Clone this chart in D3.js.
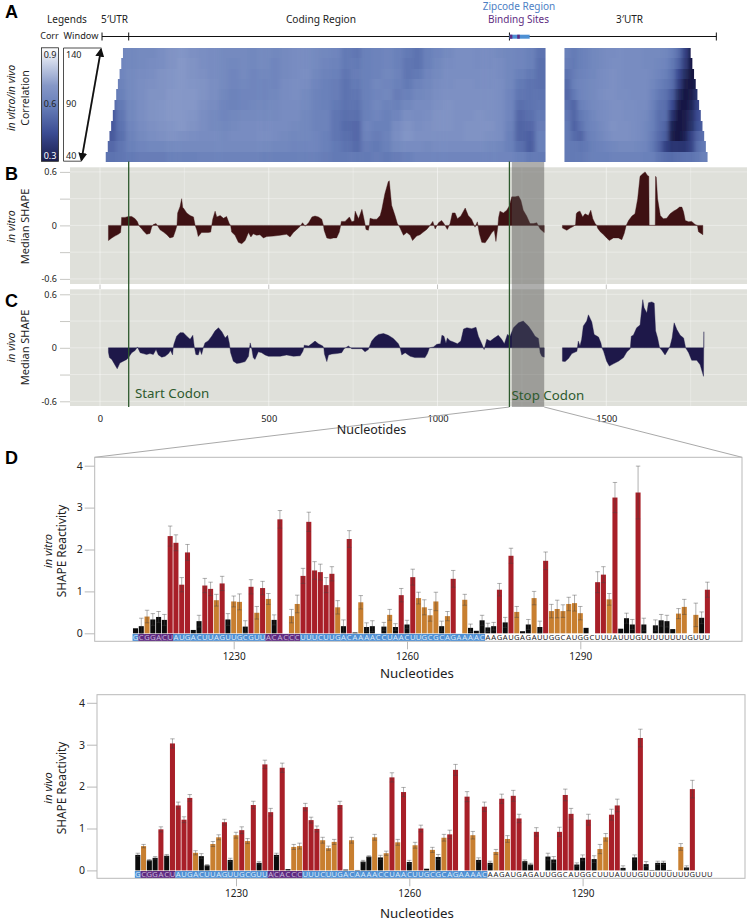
<!DOCTYPE html>
<html>
<head>
  <title>SHAPE reactivity profile</title>
  <style>
    html, body { margin: 0; padding: 0; background: #fff; }
    svg { display: block; }
    text { font-family: "Noto Sans", sans-serif; fill: #222; }
  </style>
</head>
<body>
  <svg width="747" height="921"></svg>

  <script src="https://unpkg.com/d3@7/dist/d3.min.js"></script>
  <script type="text/javascript">
    // nucleotides 1213-1312, panel D
    var firstNt = 1213
    var sequence = "GCGGACUAUGACUUAGUUGCGUUACACCCUUUCUUGACAAAACCUAACUUGCGCAGAAAACAAGAUGAGAUUGGCAUGGCUUUAUUUGUUUUUUUUGUUU"
    var bindingSpans = [[1, 6], [23, 28]]
    var zipcodeSpan = [0, 60]

    var vitroVal = [.12,.17,.40,.33,.39,.32,2.32,2.16,1.16,1.93,.08,.29,1.14,1.06,.79,1.19,.33,.76,.75,.16,1.11,.49,1.08,.82,.32,2.72,null,.41,.70,1.37,2.66,1.50,1.46,1.15,1.42,.62,.17,2.25,.02,.74,.15,.17,null,.16,.44,.15,.91,.21,1.34,.84,.62,.43,.76,.17,.41,1.30,null,.80,.13,.06,.31,.14,.17,1.04,.26,1.85,.51,.05,.21,.84,.15,1.73,.53,.58,.53,.70,.72,.48,.13,null,1.22,1.40,.81,3.24,.11,.36,.21,3.36,.21,null,.19,.31,.29,.10,.47,.63,null,.44,.37,1.04]
    var vitroTop = [null,.36,.55,.47,.52,.45,2.56,2.35,1.33,2.12,null,.43,1.31,1.22,.93,1.36,.47,.89,.94,.30,1.28,.64,1.24,.95,.44,2.93,null,.57,.91,1.55,2.89,1.71,1.65,1.33,1.59,.78,.32,2.45,null,.90,.25,.30,null,.26,.57,.23,1.07,.31,1.53,.98,.80,.57,.98,.29,.52,1.50,null,.93,.22,null,.43,.24,.26,1.19,.38,2.03,.64,null,.33,1.0,.29,1.94,.69,.79,.68,.86,.91,.64,null,null,1.47,1.59,.95,3.60,null,.48,.33,3.99,.36,null,.32,.45,.43,null,.59,.81,null,.72,.51,1.22]
    var vivoVal = [.37,.58,.24,.30,.98,.35,3.03,1.55,1.21,1.73,.42,.34,.12,.63,.79,1.15,.25,.84,.96,.70,1.56,.18,2.53,1.39,.37,2.45,.03,.56,.58,1.51,1.20,.99,.72,.53,.68,1.56,.02,.72,.01,.21,.33,.79,.31,.41,2.22,.67,1.87,.20,.60,1.00,.04,.49,.32,.78,.86,2.40,null,1.76,.84,.25,1.52,.18,.44,1.71,.75,1.78,1.24,.22,.14,.92,null,.33,.26,.92,1.80,1.35,.14,.30,1.21,.27,.51,.79,1.33,1.55,.06,null,.31,3.16,.15,.01,.18,.18,.01,null,.56,.07,1.94,null,null,null]
    var vivoTop = [.41,.62,.26,.33,1.04,.38,3.14,1.63,1.28,1.81,.47,.40,.14,.69,.85,1.22,.29,.91,1.04,.76,1.65,.21,2.63,1.48,.41,2.56,null,.62,.65,1.60,1.27,1.06,.79,.58,.74,1.65,null,.79,null,.24,.35,.86,.36,.46,2.33,.74,1.98,.24,.67,1.08,null,.55,.38,.86,.96,2.53,null,1.88,.93,.30,1.63,.22,.50,1.82,.83,1.91,1.34,.25,.17,1.02,null,.41,.33,1.03,1.94,1.48,.18,.37,1.34,.35,.62,.88,1.46,1.70,.11,null,.37,3.37,.21,null,.22,.22,null,null,.64,.11,2.15,null,null,null]

    // median SHAPE [nucleotide, value]
    var medVitroCoding = [[25,-.17],[35,-.14],[44,-.12],[54,-.10],[61,-.08],[63,0],[64,.09],[74,.09],[84,.10],[94,.10],[104,.075],[111,.04],[115,0],[119,-.02],[124,-.04],[128,-.06],[138,-.10],[148,-.09],[153,-.02],[158,.01],[166,.02],[170,0],[178,-.05],[188,-.075],[198,-.105],[207,-.14],[217,-.13],[224,-.055],[228,0],[230,.14],[237,.21],[242,.30],[245,.20],[247,.195],[257,.14],[267,.11],[277,.095],[282,0],[287,-.055],[291,-.125],[301,-.08],[311,-.08],[321,-.08],[328,-.075],[331,0],[334,.07],[341,.16],[346,.095],[356,.11],[366,.08],[375,.10],[383,.02],[387,0],[390,-.075],[400,-.11],[410,-.19],[420,-.205],[430,-.17],[440,-.08],[447,-.13],[454,-.095],[464,-.11],[474,-.105],[484,-.14],[494,-.125],[514,-.12],[534,-.11],[553,-.10],[563,-.13],[573,-.08],[583,-.045],[593,-.01],[600,.03],[608,-.01],[618,.03],[628,.095],[637,.105],[647,.095],[657,.07],[662,0],[664,-.055],[672,-.14],[682,-.15],[692,-.14],[701,-.14],[709,-.075],[713,0],[715,.045],[726,.045],[739,.095],[746,.04],[753,.05],[756,.16],[766,.075],[776,.18],[782,.075],[786,0],[788,-.045],[795,-.055],[798,0],[800,.08],[810,.07],[820,.07],[830,.11],[835,.18],[844,.355],[854,.49],[857,.50],[864,.225],[874,.11],[881,.02],[885,0],[889,-.03],[899,-.11],[909,-.08],[919,-.11],[926,-.17],[938,-.12],[948,-.105],[958,-.075],[968,-.045],[976,-.01],[986,.045],[993,-.04],[1003,.03],[1012,.055],[1019,.02],[1029,-.045],[1037,.02],[1044,.14],[1052,.14],[1059,.075],[1069,.105],[1082,.195],[1091,.11],[1101,.07],[1111,-.02],[1118,.04],[1124,-.095],[1131,-.19],[1141,-.195],[1151,-.14],[1161,-.08],[1168,-.055],[1173,-.18],[1179,0],[1181,.09],[1185,.16],[1195,.14],[1205,.17],[1213,.22],[1220,.32],[1230,.32],[1240,.33],[1247,.28],[1254,.17],[1264,.105],[1274,.02],[1284,.02],[1294,.03],[1304,-.04],[1316,-.08]]
    var medVitroUtr = [[1370,-.03],[1383,-.055],[1393,-.03],[1403,-.01],[1409,.01],[1411,.13],[1415,.15],[1422,.16],[1430,.095],[1437,.13],[1447,.11],[1454,.17],[1460,.075],[1467,.02],[1472,0],[1474,-.03],[1482,-.07],[1492,-.105],[1501,-.14],[1509,-.17],[1521,-.14],[1536,-.14],[1546,-.16],[1553,-.09],[1559,0],[1566,.055],[1576,.105],[1585,.13],[1593,.30],[1600,.55],[1608,.58],[1615,.60],[1622,.56],[1626,.55],[1627,0],[1645,0],[1646,.55],[1648,.54],[1652,.30],[1660,.11],[1669,.075],[1679,.08],[1689,.13],[1699,.16],[1709,.18],[1717,.205],[1724,.205],[1729,.15],[1734,.055],[1744,.04],[1753,.045],[1763,.01],[1770,0],[1773,-.07],[1786,-.105]]
    var medVivoCoding = [[25,-.05],[28,-.11],[35,-.13],[44,-.19],[51,-.235],[59,-.17],[69,-.15],[79,-.13],[85,-.105],[94,-.055],[104,-.03],[111,.01],[119,-.055],[128,-.065],[138,-.075],[148,-.065],[158,-.075],[166,-.02],[173,-.08],[183,-.105],[193,-.095],[203,-.065],[209,-.03],[215,-.08],[217,0],[219,.04],[227,.13],[237,.17],[247,.17],[257,.13],[267,.095],[275,.14],[279,.02],[284,-.075],[291,-.08],[296,-.02],[301,-.075],[306,0],[311,.055],[321,.08],[331,.13],[341,.19],[351,.225],[361,.18],[371,.11],[378,.14],[383,.055],[385,0],[387,-.055],[395,-.15],[405,-.175],[415,-.17],[430,-.155],[440,-.095],[443,0],[445,.055],[450,-.02],[454,-.11],[459,-.13],[469,-.045],[479,-.055],[489,-.08],[499,-.095],[514,-.095],[534,-.095],[553,-.08],[573,-.095],[593,-.09],[601,-.04],[604,0],[605,.03],[618,.02],[627,.045],[637,.075],[647,.045],[660,.02],[663,0],[665,-.07],[672,-.155],[677,-.08],[687,-.07],[701,-.065],[716,-.055],[723,-.01],[736,.02],[746,-.01],[761,-.01],[776,-.01],[785,-.045],[795,-.02],[800,.03],[805,.075],[815,.12],[825,.15],[840,.16],[854,.14],[869,.105],[884,.045],[889,0],[894,-.08],[904,-.055],[919,-.095],[933,-.11],[948,-.11],[963,-.11],[970,-.065],[976,0],[988,.01],[998,.04],[1009,.045],[1013,.14],[1019,.13],[1025,.05],[1029,.11],[1037,.08],[1047,.065],[1059,.045],[1069,.075],[1077,.21],[1087,.225],[1101,.215],[1114,.23],[1121,.13],[1131,.045],[1138,-.02],[1146,.095],[1156,.075],[1168,.11],[1180,.14],[1190,.095],[1198,.045],[1207,.15],[1215,.13],[1225,.225],[1240,.28],[1254,.30],[1269,.245],[1279,.19],[1289,.13],[1299,.105],[1304,-.055],[1309,-.095],[1316,-.105]]
    var medVivoUtr = [[1370,-.15],[1378,-.155],[1388,-.12],[1398,-.065],[1413,-.04],[1417,.075],[1422,.02],[1427,.095],[1432,.245],[1442,.30],[1447,.37],[1457,.29],[1464,.15],[1477,.12],[1484,.055],[1487,0],[1492,-.04],[1501,-.15],[1509,-.205],[1521,-.18],[1536,-.15],[1551,-.11],[1561,-.045],[1571,-.01],[1574,.13],[1580,.14],[1590,.225],[1600,.255],[1608,.54],[1612,.45],[1620,.39],[1625,.505],[1635,.515],[1642,.50],[1646,.19],[1652,.11],[1658,0],[1665,-.03],[1674,-.08],[1682,-.03],[1689,.02],[1695,.11],[1701,.28],[1709,.205],[1719,.14],[1729,.11],[1735,0],[1744,-.055],[1753,-.14],[1768,-.14],[1778,-.19],[1788,-.32],[1789,.18]]

    // correlation heatmap, one row per window size
    var windows = [140,130,120,110,100,90,80,70,60,50,40]
    var heatRowStart = [68,63,58,53,48,43,38,33,28,23,17]
    var heatRowEnd = [1750,1755,1760,1765,1770,1775,1780,1785,1790,1795,1800]
    var heatCoding = [
      [62,62,63,64,64,66,68,69,67,66,65,64,64,64,63,64,63,64,65,65,64,63,62,58,57,60,61,62,60,58,56,60,62,64,66,66,65,65,64,63,62,60,56],
      [62,62,63,64,65,66,68,70,68,66,65,64,63,64,63,64,62,64,65,65,64,62,61,58,58,60,61,62,60,57,56,60,63,65,66,66,65,65,65,63,62,60,55],
      [60,62,64,65,66,68,69,70,68,67,65,64,62,64,62,63,62,64,65,66,63,61,60,57,59,60,61,63,61,57,58,62,64,66,66,66,66,66,65,63,60,58,55],
      [57,61,64,66,67,68,69,70,69,68,66,64,62,63,62,62,62,65,66,65,62,60,59,56,58,60,63,62,60,58,61,63,65,66,67,67,66,66,66,63,58,56,55],
      [55,60,64,66,68,68,70,70,70,68,66,63,61,62,62,62,63,65,66,64,61,60,59,56,57,60,62,63,59,60,63,64,66,67,67,67,67,67,66,62,57,56,56],
      [52,58,63,66,68,69,70,70,70,67,65,62,61,62,63,63,64,65,65,64,61,60,58,56,56,60,63,61,60,63,65,65,67,68,67,67,67,67,66,62,55,56,57],
      [48,57,63,66,68,69,70,70,69,66,64,62,63,64,64,64,64,65,65,63,61,61,57,55,55,60,62,60,62,66,65,66,68,68,67,67,68,67,66,62,53,55,58],
      [48,56,62,65,67,68,69,70,68,66,64,63,64,65,65,65,65,65,64,63,61,61,57,54,53,62,60,60,65,68,66,67,68,68,67,68,68,68,66,61,52,53,59],
      [49,55,61,64,66,67,68,67,66,65,65,64,65,65,65,66,65,64,63,63,62,60,57,55,53,61,59,61,66,69,67,67,67,67,67,68,68,67,66,60,52,51,60],
      [53,57,60,62,63,63,64,64,64,64,64,64,64,64,64,64,63,63,62,62,62,60,58,56,54,59,58,60,64,65,65,64,65,65,65,65,65,64,63,60,55,50,60],
      [56,57,58,59,59,59,60,60,60,61,61,61,61,61,61,60,60,60,60,60,60,59,58,58,58,58,59,58,59,60,62,62,62,62,62,62,62,62,62,62,60,58,58]
    ]
    var heatUtr = [
      [60,58,60,61,63,64,65,65,66,65,65,65,64,64,64,63,60,55,42,30,30,30],
      [59,58,60,61,63,64,65,66,66,65,65,65,64,64,63,62,58,52,40,28,28,28],
      [56,59,61,62,63,65,66,67,66,65,65,65,65,64,62,60,56,45,35,27,30,30],
      [54,60,62,63,64,65,66,67,66,65,65,65,65,63,60,58,55,42,30,28,32,32],
      [53,58,62,63,64,66,67,67,66,66,65,65,65,62,58,56,50,35,28,30,38,38],
      [55,52,60,62,64,65,66,67,67,66,66,65,65,61,56,55,45,30,28,32,42,50],
      [57,52,58,60,63,65,66,67,67,66,66,65,64,60,55,55,38,28,30,35,45,50],
      [58,51,56,60,62,64,66,68,67,67,66,65,63,60,55,52,32,28,30,36,47,50],
      [58,54,52,59,61,63,65,67,67,67,66,65,63,59,54,50,30,28,32,42,52,55],
      [58,58,57,58,60,61,62,63,64,64,64,63,62,58,52,42,38,38,38,42,55,58],
      [58,58,58,59,60,60,60,61,61,61,61,61,60,60,57,55,54,55,56,56,58,60]
    ]
    var legendStops = [.9,.85,.8,.75,.7,.65,.6,.55,.5,.45,.4,.35,.3]

    var regionTicks = [6,85,1213,1826]
    var shapeTicks = [.6,.3,0,-.3,-.6]
    var ntTicks = [0,500,1000,1500]
    var ntGrid = [250,750,1250,1750]
    var reactivityTicks = [0,1,2,3,4]
    var zoomTicks = [1230,1260,1290]

    var svg = d3.select("svg")

    var xNt = d3.scaleLinear().domain([0, 1500]).range([100, 606.3])
    var color = d3.scaleLinear()
      .domain([.3, .45, .6, .7, .8, .9])
      .range(["#1a1d4c", "#3b4c93", "#6a81ba", "#8597c7", "#c0cae2", "#ffffff"])

    function label(x, y, txt, size, opts) {
      opts = opts || {}
      return svg.append("text")
        .attr("x", x).attr("y", y)
        .attr("font-size", size)
        .attr("text-anchor", opts.anchor || "middle")
        .attr("font-style", opts.italic ? "italic" : null)
        .attr("font-weight", opts.bold ? "bold" : null)
        .style("fill", opts.fill || null)
        .style("font-family", opts.family || null)
        .text(txt)
    }

    function sideLabel(cx, cy, txt, size, italic) {
      svg.append("text")
        .attr("transform", "translate(" + cx + "," + cy + ") rotate(-90)")
        .attr("text-anchor", "middle")
        .attr("font-size", size)
        .attr("font-style", italic ? "italic" : null)
        .text(txt)
    }

    // panel letters
    var letters = [["A", 18], ["B", 180], ["C", 307], ["D", 464]]
    letters.forEach(function(d) {
      label(5, d[1], d[0], 18, {anchor: "start", bold: true, fill: "#000", family: "Liberation Sans"})
    })

    // header of panel A
    label(67, 23, "Legends", 10)
    label(114.5, 23, "5\u2032UTR", 10)
    label(321, 23, "Coding Region", 10.2)
    label(519, 10, "Zipcode Region", 10, {fill: "#4d80c4"})
    label(518.5, 23, "Binding Sites", 10, {fill: "#5e2d82"})
    label(629.5, 23, "3\u2032UTR", 10)
    label(49.5, 39, "Corr", 9)
    label(81, 39, "Window", 9.2)

    svg.append("line").attr("x1", xNt(regionTicks[0])).attr("x2", xNt(regionTicks[3])).attr("y1", 36.5).attr("y2", 36.5)
      .attr("stroke", "#111").attr("stroke-width", 1)
    svg.selectAll(".regionTick").data(regionTicks).enter().append("line")
      .attr("x1", function(d) { return xNt(d) })
      .attr("x2", function(d) { return xNt(d) })
      .attr("y1", 32.5).attr("y2", 40.5)
      .attr("stroke", "#111").attr("stroke-width", 1)

    // zipcode bar on the region line
    svg.append("rect")
      .attr("x", xNt(firstNt + zipcodeSpan[0])).attr("y", 34.7)
      .attr("width", xNt(firstNt + zipcodeSpan[1]) - xNt(firstNt + zipcodeSpan[0])).attr("height", 4)
      .attr("fill", "#4d90d4")
    svg.selectAll(".bindBar").data(bindingSpans).enter().append("rect")
      .attr("x", function(d) { return xNt(firstNt + d[0]) })
      .attr("y", 34.7).attr("height", 4)
      .attr("width", 2.6)
      .attr("fill", "#5e2d82")

    // heatmap, rows snapped to whole pixels so no seams show
    var defs = svg.append("defs")
    var rowY = d3.scaleBand().domain(windows).range([48, 162])
    var colCoding = d3.scaleBand().domain(d3.range(heatCoding[0].length)).range([xNt(17), xNt(1320)])
    var colUtr = d3.scaleBand().domain(d3.range(heatUtr[0].length)).range([xNt(1376), xNt(1800)])
    var rowTop = function(w) { return Math.round(rowY(w)) }
    var rowBot = function(w) { return Math.round(rowY(w) + rowY.bandwidth()) }

    // one outline for the stepped left edge of the coding part, one for the right edge of the UTR part
    var codingEdge = "M" + xNt(1320) + "," + rowTop(windows[0]), utrEdge = "M" + xNt(1376) + "," + rowTop(windows[0])
    windows.forEach(function(w, r) {
      utrEdge += "L" + xNt(heatRowEnd[r]) + "," + rowTop(w) + "L" + xNt(heatRowEnd[r]) + "," + rowBot(w)
    })
    utrEdge += "L" + xNt(1376) + "," + rowBot(windows[10]) + "Z"
    codingEdge += "L" + xNt(1320) + "," + rowBot(windows[10])
    windows.slice().reverse().forEach(function(w, k) {
      var r = windows.length - 1 - k
      codingEdge += "L" + xNt(heatRowStart[r]) + "," + rowBot(w) + "L" + xNt(heatRowStart[r]) + "," + rowTop(w)
    })
    codingEdge += "Z"
    defs.append("clipPath").attr("id", "heatClip").append("path").attr("d", codingEdge + utrEdge)

    defs.append("filter").attr("id", "heatBlur").attr("x", "-5%").attr("y", "-5%").attr("width", "110%").attr("height", "110%")
      .append("feGaussianBlur").attr("stdDeviation", "2.2 0.5")

    var heat = svg.append("g").attr("clip-path", "url(#heatClip)")
      .append("g").attr("filter", "url(#heatBlur)")
    windows.forEach(function(w, r) {
      var pad = (r === 0 || r === windows.length - 1) ? 4 : 0
      var top = rowTop(w) - (r === 0 ? 4 : 0)
      var h = rowBot(w) - rowTop(w) + pad
      heat.selectAll(".codingCell" + r).data(heatCoding[r]).enter().append("rect")
        .attr("x", function(d, i) { return i === 0 ? colCoding(i) - 8 : colCoding(i) })
        .attr("y", top)
        .attr("width", function(d, i) {
          if (i === 0) return colCoding.bandwidth() + 8.5
          return colCoding.bandwidth() + (i === heatCoding[r].length - 1 ? 8 : .5)
        })
        .attr("height", h)
        .attr("fill", function(d) { return color(d / 100) })
      heat.selectAll(".utrCell" + r).data(heatUtr[r]).enter().append("rect")
        .attr("x", function(d, i) { return i === 0 ? colUtr(i) - 8 : colUtr(i) })
        .attr("y", top)
        .attr("width", function(d, i) {
          if (i === 0) return colUtr.bandwidth() + 8.5
          return colUtr.bandwidth() + (i === heatUtr[r].length - 1 ? 8 : .5)
        })
        .attr("height", h)
        .attr("fill", function(d) { return color(d / 100) })
    })

    // legends
    var grad = defs.append("linearGradient").attr("id", "corrGrad").attr("x1", 0).attr("x2", 0).attr("y1", 0).attr("y2", 1)
    grad.selectAll("stop").data(legendStops).enter().append("stop")
      .attr("offset", function(d, i) { return i / (legendStops.length - 1) })
      .attr("stop-color", function(d) { return color(d) })
    svg.append("rect").attr("x", 41.5).attr("y", 47.8).attr("width", 17).attr("height", 113.5)
      .attr("fill", "url(#corrGrad)").attr("stroke", "#222").attr("stroke-width", .8)
    label(50, 57.5, "0.9", 9)
    label(50, 106.5, "0.6", 9)
    label(50, 158.5, "0.3", 9, {fill: "#fff"})

    svg.append("path").attr("d", "M101.5,48 H63.5 V161.2 H81")
      .attr("fill", "none").attr("stroke", "#222").attr("stroke-width", .8)
    label(66, 57.5, "140", 9, {anchor: "start"})
    label(66, 106.5, "90", 9, {anchor: "start"})
    label(66, 158.5, "40", 9, {anchor: "start"})

    var head = defs.append("marker").attr("id", "head").attr("viewBox", "0 0 10 10")
      .attr("refX", 8).attr("refY", 5).attr("markerWidth", 5).attr("markerHeight", 5)
      .attr("orient", "auto-start-reverse")
    head.append("path").attr("d", "M0,0 L10,5 L0,10 z").attr("fill", "#111")
    svg.append("line").attr("x1", 101).attr("y1", 49.5).attr("x2", 81.5).attr("y2", 160)
      .attr("stroke", "#111").attr("stroke-width", 1.8)
      .attr("marker-start", "url(#head)").attr("marker-end", "url(#head)")

    sideLabel(15, 98, "in vitro/in vivo", 10.5, true)
    sideLabel(29, 98, "Correlation", 10.5)

    // median SHAPE panels B and C
    function medianPanel(top, bottom, y0, segs, fill) {
      var y = d3.scaleLinear().domain([-.6, .6]).range([y0 + 53.5, y0 - 53.5])
      svg.append("rect").attr("x", 70).attr("y", top).attr("width", 677).attr("height", bottom - top)
        .attr("fill", "#dfe0da")

      var gridG = svg.append("g").attr("stroke", "#fff")
      gridG.selectAll(".gy").data(shapeTicks).enter().append("line")
        .attr("x1", 70).attr("x2", 747)
        .attr("y1", function(d) { return y(d) }).attr("y2", function(d) { return y(d) })
        .attr("stroke-opacity", .45).attr("stroke-width", .8)
      gridG.selectAll(".gx").data(ntTicks).enter().append("line")
        .attr("x1", function(d) { return xNt(d) }).attr("x2", function(d) { return xNt(d) })
        .attr("y1", top).attr("y2", bottom)
        .attr("stroke-opacity", .6).attr("stroke-width", .8)
      gridG.selectAll(".gx2").data(ntGrid).enter().append("line")
        .attr("x1", function(d) { return xNt(d) }).attr("x2", function(d) { return xNt(d) })
        .attr("y1", top).attr("y2", bottom)
        .attr("stroke-opacity", .35).attr("stroke-width", .8)

      var area = d3.area()
        .x(function(d) { return xNt(d[0]) })
        .y0(y(0))
        .y1(function(d) { return y(d[1]) })
      segs.forEach(function(s) {
        svg.append("path").datum(s).attr("d", area).attr("fill", fill)
          .attr("stroke", fill).attr("stroke-width", .4)
      })

      var axis = d3.axisLeft(y).tickValues(shapeTicks).tickSize(10).tickPadding(3)
        .tickFormat(function(d) { return d === 0 ? "0" : (d === .6 ? "0.6" : (d === -.6 ? "-0.6" : "")) })
      var g = svg.append("g").attr("transform", "translate(70,0)").call(axis)
      g.select(".domain").remove()
      g.selectAll("line").attr("stroke", "#c8c8c4")
      g.selectAll("text").attr("font-size", 9).attr("font-family", "Noto Sans").style("fill", "#222")
      return y
    }

    medianPanel(167.3, 284, 225.4, [medVitroCoding, medVitroUtr], "#3e1113")
    medianPanel(289.3, 406, 347.8, [medVivoCoding, medVivoUtr], "#1e1849")

    // ticks in the white strip between B and C
    svg.selectAll(".stripTick").data(ntTicks).enter().append("line")
      .attr("x1", function(d) { return xNt(d) }).attr("x2", function(d) { return xNt(d) })
      .attr("y1", 284.5).attr("y2", 289)
      .attr("stroke", "#b5b5b2").attr("stroke-width", .8)

    var ntAxis = d3.axisBottom(xNt).tickValues(ntTicks).tickSize(0).tickPadding(9).tickFormat(d3.format("d"))
    var ntG = svg.append("g").attr("transform", "translate(0,406)").call(ntAxis)
    ntG.select(".domain").remove()
    ntG.selectAll("text").attr("font-size", 9.3).attr("font-family", "Noto Sans").style("fill", "#222")

    // zoom lines
    svg.append("line").attr("x1", 94.7).attr("y1", 457.3).attr("x2", xNt(1213)).attr("y2", 407)
      .attr("stroke", "#a9a9a9").attr("stroke-width", 1)
    svg.append("line").attr("x1", xNt(1316)).attr("y1", 407).attr("x2", 742).attr("y2", 457.3)
      .attr("stroke", "#a9a9a9").attr("stroke-width", 1)

    label(371.5, 434, "Nucleotides", 12.5)

    // shaded region and codon lines
    svg.append("rect").attr("x", xNt(1220)).attr("y", 162).attr("width", xNt(1316) - xNt(1220)).attr("height", 245)
      .attr("fill", "#4f4f4d").attr("fill-opacity", .46)
    svg.selectAll(".codon").data([85, 1213]).enter().append("line")
      .attr("x1", function(d) { return xNt(d) }).attr("x2", function(d) { return xNt(d) })
      .attr("y1", 161.5).attr("y2", 407)
      .attr("stroke", "#2e5a2e").attr("stroke-width", 1.3)
    label(135, 398, "Start Codon", 13.3, {anchor: "start", fill: "#2e5a2e"})
    label(511.5, 400, "Stop Codon", 13.3, {anchor: "start", fill: "#2e5a2e"})

    sideLabel(15, 226.5, "in vitro", 10.5, true)
    sideLabel(29, 226.5, "Median SHAPE", 11)
    sideLabel(15, 347.5, "in vivo", 10.5, true)
    sideLabel(29, 347.5, "Median SHAPE", 11)

    // reactivity panels in D
    function reactivityPanel(box, vals, tops, tickX, name) {
      var x = d3.scaleLinear().domain([1230, 1290]).range([tickX, tickX + 346.6])
      var y = d3.scaleLinear().domain([0, 4]).range([box.y0, box.y0 - 167.6])
      var barW = 5.05
      var frameColor = "#b9b9b9"

      svg.append("rect").attr("x", box.left).attr("y", box.top)
        .attr("width", box.right - box.left).attr("height", box.bottom - box.top)
        .attr("fill", "none").attr("stroke", frameColor).attr("stroke-width", 1)

      var data = vals.map(function(v, i) {
        return {nt: firstNt + i, val: v, top: tops[i], base: sequence[i], i: i}
      })
      var isZip = function(i) { return i >= zipcodeSpan[0] && i <= zipcodeSpan[1] }
      var isBind = function(i) {
        return bindingSpans.some(function(s) { return i >= s[0] && i <= s[1] })
      }

      // sequence strip
      svg.selectAll(".strip" + name).data(data).enter().append("rect")
        .attr("x", function(d) { return x(d.nt) - 2.95 })
        .attr("y", box.y0 + .6).attr("width", 5.95).attr("height", box.bottom - box.y0 - 1)
        .attr("fill", function(d) { return isBind(d.i) ? "#5e2a80" : (isZip(d.i) ? "#4f8fd3" : "none") })
      svg.selectAll(".base" + name).data(data).enter().append("text")
        .attr("x", function(d) { return x(d.nt) })
        .attr("y", box.bottom - 1.4)
        .attr("text-anchor", "middle")
        .attr("font-size", 7.6)
        .style("fill", function(d) { return isBind(d.i) || isZip(d.i) ? (isBind(d.i) ? "#c9b9dc" : "#dcebfa") : "#222" })
        .text(function(d) { return d.base })

      // bars
      var present = data.filter(function(d) { return d.val !== null })
      svg.selectAll(".bar" + name).data(present).enter().append("rect")
        .attr("x", function(d) { return x(d.nt) - barW / 2 })
        .attr("width", barW)
        .attr("y", function(d) { return y(d.val) })
        .attr("height", function(d) { return y(0) - y(d.val) })
        .attr("fill", function(d) { return d.val >= .85 ? "#a81f28" : (d.val >= .4 ? "#c87f30" : "#0b0b0b") })

      // error bars
      var errs = present.filter(function(d) { return d.top !== null })
      var errG = svg.append("g").attr("stroke", "#444").attr("stroke-opacity", .6).attr("stroke-width", .7)
      errG.selectAll(".stem").data(errs).enter().append("line")
        .attr("x1", function(d) { return x(d.nt) }).attr("x2", function(d) { return x(d.nt) })
        .attr("y1", function(d) { return y(d.top) })
        .attr("y2", function(d) { return y(Math.max(0, 2 * d.val - d.top)) })
      errG.selectAll(".capTop").data(errs).enter().append("line")
        .attr("x1", function(d) { return x(d.nt) - 2.2 }).attr("x2", function(d) { return x(d.nt) + 2.2 })
        .attr("y1", function(d) { return y(d.top) }).attr("y2", function(d) { return y(d.top) })
      errG.selectAll(".capLow").data(errs).enter().append("line")
        .attr("x1", function(d) { return x(d.nt) - 2.2 }).attr("x2", function(d) { return x(d.nt) + 2.2 })
        .attr("y1", function(d) { return y(Math.max(0, 2 * d.val - d.top)) })
        .attr("y2", function(d) { return y(Math.max(0, 2 * d.val - d.top)) })

      var yAxis = d3.axisLeft(y).tickValues(reactivityTicks).tickSize(10).tickPadding(2).tickFormat(d3.format("d"))
      var gy = svg.append("g").attr("transform", "translate(" + box.left + ",0)").call(yAxis)
      gy.select(".domain").remove()
      gy.selectAll("line").attr("stroke", frameColor)
      gy.selectAll("text").attr("font-size", 10.5).attr("font-family", "Noto Sans").style("fill", "#222")

      var xAxis = d3.axisBottom(x).tickValues(zoomTicks).tickSize(8).tickPadding(4).tickFormat(d3.format("d"))
      var gx = svg.append("g").attr("transform", "translate(0," + box.bottom + ")").call(xAxis)
      gx.select(".domain").remove()
      gx.selectAll("line").attr("stroke", frameColor)
      gx.selectAll("text").attr("font-size", 10).attr("font-family", "Noto Sans").style("fill", "#222")
    }

    reactivityPanel({left: 94.7, right: 742, top: 457.3, bottom: 641.3, y0: 633.3}, vitroVal, vitroTop, 233.7, "vitro")
    reactivityPanel({left: 97, right: 745, top: 694.7, bottom: 878.3, y0: 870.4}, vivoVal, vivoTop, 236, "vivo")

    label(417, 678, "Nucleotides", 13.3)
    label(417, 918, "Nucleotides", 13.3)
    sideLabel(51.5, 551, "in vitro", 11, true)
    sideLabel(66, 551, "SHAPE Reactivity", 11.8)
    sideLabel(51.5, 788, "in vivo", 11, true)
    sideLabel(66, 788, "SHAPE Reactivity", 11.8)
  </script>
</body>
</html>
